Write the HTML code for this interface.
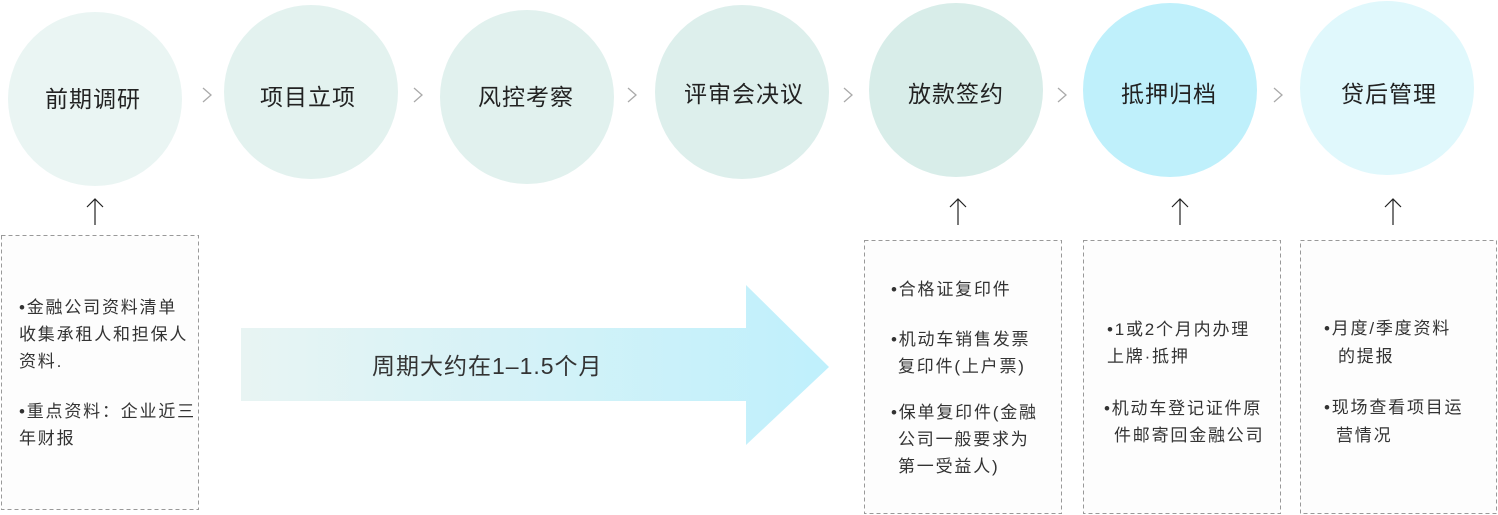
<!DOCTYPE html>
<html><head><meta charset="utf-8"><style>
html,body{margin:0;padding:0;background:#fff;}
svg{display:block;}
text{font-family:"Liberation Sans","Noto Sans CJK SC",sans-serif;fill:#222;}
.t{font-size:23px;text-anchor:middle;dominant-baseline:central;letter-spacing:1px;}
.b{font-size:17px;fill:#333;letter-spacing:1.8px;}
</style></head><body>
<svg width="1498" height="515" viewBox="0 0 1498 515" xmlns="http://www.w3.org/2000/svg">
<defs>
<linearGradient id="g" x1="241" y1="0" x2="829" y2="0" gradientUnits="userSpaceOnUse">
<stop offset="0" stop-color="#e8f4f3"/><stop offset="1" stop-color="#bff0fc"/>
</linearGradient>
</defs>
<circle cx="95" cy="99" r="87" fill="#eaf5f3"/>
<circle cx="311" cy="92" r="87" fill="#e3f2ef"/>
<circle cx="527" cy="97" r="87" fill="#e1f1ee"/>
<circle cx="742" cy="92" r="87" fill="#ddefec"/>
<circle cx="956" cy="90" r="87" fill="#d8ede9"/>
<circle cx="1170" cy="90" r="87" fill="#bff0fb"/>
<circle cx="1387" cy="88" r="87" fill="#e0f8fc"/>
<text class="t" x="93" y="99">前期调研</text>
<text class="t" x="308" y="97">项目立项</text>
<text class="t" x="526" y="97">风控考察</text>
<text class="t" x="744" y="94">评审会决议</text>
<text class="t" x="956" y="94">放款签约</text>
<text class="t" x="1169" y="94">抵押归档</text>
<text class="t" x="1389" y="94">贷后管理</text>
<g fill="none" stroke="#aaa" stroke-width="1.3">
<path d="M203 88 L211 95 L203 102"/>
<path d="M414 88 L422 95 L414 102"/>
<path d="M628 88 L636 95 L628 102"/>
<path d="M844 88 L852 95 L844 102"/>
<path d="M1058 88 L1066 95 L1058 102"/>
<path d="M1274 88 L1282 95 L1274 102"/>
</g>
<g fill="none" stroke="#222" stroke-width="1.2">
<path d="M95 225 V199 M87 207 L95 199 L103 207"/>
<path d="M958 225 V199 M950 207 L958 199 L966 207"/>
<path d="M1180 225 V199 M1172 207 L1180 199 L1188 207"/>
<path d="M1393 225 V199 M1385 207 L1393 199 L1401 207"/>
</g>
<g fill="#fdfdfd" stroke="#999" stroke-dasharray="4,3" stroke-width="1">
<rect x="1.5" y="235.5" width="197" height="274"/>
<rect x="864.5" y="240.5" width="197" height="273"/>
<rect x="1083.5" y="240.5" width="197" height="273"/>
<rect x="1300.5" y="240.5" width="196" height="273"/>
</g>
<path d="M241 328 H746 V285 L829 367 L746 445 V401 H241 Z" fill="url(#g)"/>
<text x="372" y="374" style="font-size:23px;fill:#333;letter-spacing:1px">周期大约在1–1.5个月</text>
<g>
<text class="b" x="19" y="313">•金融公司资料清单</text>
<text class="b" x="19" y="340">收集承租人和担保人</text>
<text class="b" x="19" y="367">资料.</text>
<text class="b" x="19" y="417">•重点资料：企业近三</text>
<text class="b" x="19" y="444">年财报</text>
<text class="b" x="891" y="295">•合格证复印件</text>
<text class="b" x="891" y="345">•机动车销售发票</text>
<text class="b" x="898" y="372">复印件(上户票)</text>
<text class="b" x="891" y="418">•保单复印件(金融</text>
<text class="b" x="898" y="445">公司一般要求为</text>
<text class="b" x="898" y="472">第一受益人)</text>
<text class="b" x="1107" y="335">•1或2个月内办理</text>
<text class="b" x="1107" y="362">上牌·抵押</text>
<text class="b" x="1104" y="414">•机动车登记证件原</text>
<text class="b" x="1114" y="441">件邮寄回金融公司</text>
<text class="b" x="1324" y="334">•月度/季度资料</text>
<text class="b" x="1338" y="362">的提报</text>
<text class="b" x="1324" y="413">•现场查看项目运</text>
<text class="b" x="1336" y="441">营情况</text>
</g>
</svg>
</body></html>
